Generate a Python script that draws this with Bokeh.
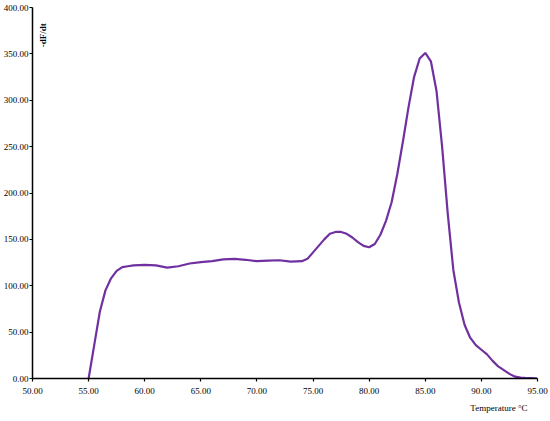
import math
from bokeh.plotting import figure
from bokeh.models import Range1d, FixedTicker, NumeralTickFormatter, Label, Title
from bokeh.embed import file_html
from bokeh.resources import INLINE

temperature = [55.0, 55.5, 56.0, 56.5, 57.0, 57.5, 58.0, 58.5, 59.0, 60.0, 61.0, 62.0, 63.0, 64.0,
               65.0, 66.0, 67.0, 68.0, 69.0, 70.0, 71.0, 72.0, 73.0, 74.0, 74.5, 75.0, 75.5, 76.0,
               76.5, 77.0, 77.5, 78.0, 78.5, 79.0, 79.5, 80.0, 80.5, 81.0, 81.5, 82.0, 82.5, 83.0,
               83.5, 84.0, 84.5, 85.0, 85.5, 86.0, 86.5, 87.0, 87.5, 88.0, 88.5, 89.0, 89.5, 90.0,
               90.5, 91.0, 91.5, 92.0, 92.5, 93.0, 93.5, 94.0, 94.5, 95.0]
dfdt = [0, 36, 72, 95, 108, 116, 120, 121, 122, 122.5, 122, 119.5, 121, 124,
        125.5, 126.5, 128.5, 129, 128, 126.5, 127, 127.5, 126, 126.5, 129, 136, 143, 150,
        156, 158, 158, 156, 152, 147, 143, 141.5, 145, 155, 170, 190, 220, 255,
        292, 325, 345, 351, 342, 310, 250, 178, 117, 82, 58, 44, 36, 31,
        26, 19, 13, 9, 5, 2, 1, 0.5, 0.3, 0]
x_ticks = [50, 55, 60, 65, 70, 75, 80, 85, 90, 95]
y_ticks = [0, 50, 100, 150, 200, 250, 300, 350, 400]

FONT = "Liberation Serif"

p = figure(width=550, height=421, output_backend="svg", toolbar_location=None,
           x_range=Range1d(50, 95), y_range=Range1d(0, 400),
           min_border_left=0, min_border_right=13, min_border_top=7, min_border_bottom=43)
p.outline_line_color = None
p.grid.visible = False

p.line(temperature, dfdt, line_color="#7030A0", line_width=2.2)

for ax in (p.xaxis[0], p.yaxis[0]):
    ax.axis_line_color = "black"
    ax.axis_line_width = 1.5
    ax.major_tick_line_color = "black"
    ax.major_tick_line_width = 1.2
    ax.major_tick_out = 3
    ax.major_tick_in = 0
    ax.minor_tick_line_color = None
    ax.major_label_text_font = FONT
    ax.major_label_text_font_size = "9px"
    ax.major_label_text_color = "black"
    ax.major_label_standoff = 1
    ax.formatter = NumeralTickFormatter(format="0.00")

p.xaxis[0].ticker = FixedTicker(ticks=x_ticks)
p.yaxis[0].ticker = FixedTicker(ticks=y_ticks)
p.xaxis[0].major_label_standoff = 6

p.add_layout(Title(text="Temperature °C", align="right", offset=10, standoff=8,
                   text_font=FONT, text_font_size="9px", text_font_style="normal",
                   text_color="black"), "below")

p.add_layout(Label(x=50.9, y=370, text="-dF/dt", angle=math.pi / 2,
                   text_font=FONT, text_font_size="9px", text_font_style="bold",
                   text_align="center", text_baseline="middle", text_color="black"))

open("out.html", "w").write(file_html(p, INLINE))
